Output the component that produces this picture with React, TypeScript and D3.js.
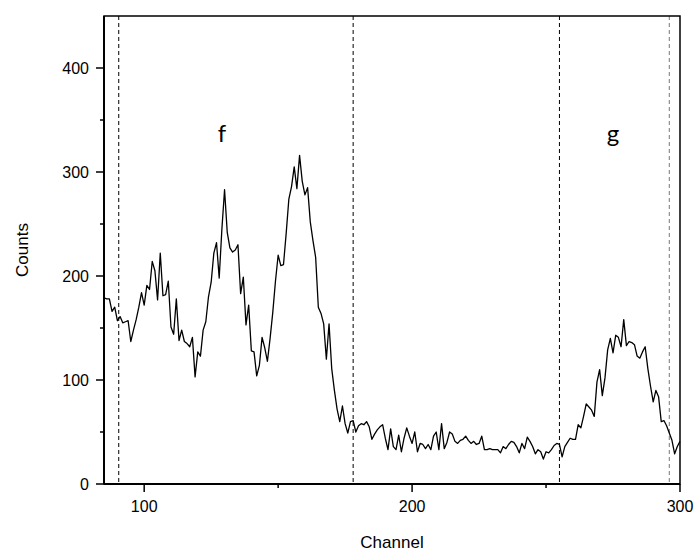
import React from 'react';
import * as d3 from 'd3';

const channelStart = 85;
const counts: number[] = [
  179, 178, 178, 166, 170, 157, 161, 155, 156, 157,
  137, 148, 158, 170, 184, 172, 191, 187, 214, 205,
  177, 222, 181, 182, 195, 151, 144, 178, 138, 148,
  137, 135, 132, 141, 103, 127, 123, 148, 156, 180,
  194, 222, 232, 198, 245, 283, 242, 227, 223, 225,
  230, 183, 199, 153, 172, 128, 127, 104, 114, 141,
  131, 118, 140, 165, 195, 220, 210, 211, 241, 274,
  286, 305, 284, 316, 291, 278, 285, 252, 234, 218,
  170, 164, 154, 120, 154, 111, 90, 72, 60, 75,
  58, 49, 60, 61, 50, 56, 58, 57, 60, 55,
  43, 48, 52, 55, 57, 44, 33, 53, 36, 33,
  47, 31, 44, 54, 46, 39, 50, 31, 39, 38,
  34, 38, 33, 46, 50, 33, 58, 34, 40, 50,
  48, 41, 39, 42, 43, 46, 42, 39, 41, 38,
  39, 46, 33, 33, 34, 33, 33, 33, 30, 36,
  34, 38, 41, 40, 36, 30, 39, 34, 45, 41,
  36, 29, 33, 31, 24, 31, 30, 33, 37, 39,
  38, 26, 36, 40, 44, 43, 43, 57, 54, 65,
  77, 74, 71, 65, 98, 110, 85, 102, 129, 140,
  126, 143, 141, 132, 158, 133, 137, 136, 134, 123,
  121, 127, 132, 111, 94, 79, 90, 84, 60, 61,
  56, 49, 42, 29, 36, 41,
];
const dashedChannels = [90.5, 178, 255, 296];
const dashedColors = ['#000', '#000', '#000', '#777'];
const xTicks = [100, 200, 300];
const xMinorTicks = [150, 250];
const yTicks = [0, 100, 200, 300, 400];
const yMinorTicks = [50, 150, 250, 350];
const peakLabels = ['f', 'g'];
const peakLabelChannels = [129, 275];
const peakLabelCount = 338;
const xDomain = [85, 300];
const yDomain = [0, 450];

const W = 698;
const H = 553;
const M = { left: 104, right: 18, top: 16, bottom: 69 };

export default function App() {
  const x = d3.scaleLinear().domain(xDomain).range([M.left, W - M.right]);
  const y = d3.scaleLinear().domain(yDomain).range([H - M.bottom, M.top]);
  const data = counts.map((v, i) => ({ c: channelStart + i, v }));
  const line = d3
    .line<{ c: number; v: number }>()
    .x((d) => x(d.c))
    .y((d) => y(d.v));
  const x0 = x(xDomain[0]);
  const x1 = x(xDomain[1]);
  const y0 = y(yDomain[0]);
  const y1 = y(yDomain[1]);
  const font = "'Liberation Sans', Arial, sans-serif";
  return (
    <svg
      width={W}
      height={H}
      style={{ position: 'absolute', left: 0, top: 0, background: '#fff' }}
    >
      <rect x={0} y={0} width={W} height={H} fill="#fff" />
      {dashedChannels.map((c, i) => (
        <line
          key={'d' + i}
          x1={x(c)}
          x2={x(c)}
          y1={y1}
          y2={y0}
          stroke={dashedColors[i]}
          strokeWidth={1}
          strokeDasharray="4,3"
        />
      ))}
      <path d={line(data) || ''} fill="none" stroke="#000" strokeWidth={1.3} strokeLinejoin="round" />
      <rect x={x0} y={y1} width={x1 - x0} height={y0 - y1} fill="none" stroke="#000" strokeWidth={1.5} />
      <line x1={x0} x2={x0} y1={y1} y2={y0} stroke="#000" strokeWidth={2} />
      <line x1={x0} x2={x1} y1={y0} y2={y0} stroke="#000" strokeWidth={2} />
      {yTicks.map((t) => (
        <g key={'yt' + t}>
          <line x1={x0 - 8} x2={x0} y1={y(t)} y2={y(t)} stroke="#000" strokeWidth={1.5} />
          <text x={x0 - 15} y={y(t)} textAnchor="end" dominantBaseline="central" fontFamily={font} fontSize={16}>
            {t}
          </text>
        </g>
      ))}
      {yMinorTicks.map((t) => (
        <line key={'ym' + t} x1={x0 - 4} x2={x0} y1={y(t)} y2={y(t)} stroke="#000" strokeWidth={1.5} />
      ))}
      {xTicks.map((t) => (
        <g key={'xt' + t}>
          <line x1={x(t)} x2={x(t)} y1={y0} y2={y0 + 8} stroke="#000" strokeWidth={1.5} />
          <text x={x(t)} y={y0 + 28} textAnchor="middle" fontFamily={font} fontSize={16}>
            {t}
          </text>
        </g>
      ))}
      {xMinorTicks.map((t) => (
        <line key={'xm' + t} x1={x(t)} x2={x(t)} y1={y0} y2={y0 + 4} stroke="#000" strokeWidth={1.5} />
      ))}
      <text x={(x0 + x1) / 2} y={H - 5} textAnchor="middle" fontFamily={font} fontSize={17}>
        Channel
      </text>
      <text
        transform={`translate(28, ${(y0 + y1) / 2}) rotate(-90)`}
        textAnchor="middle"
        fontFamily={font}
        fontSize={17}
      >
        Counts
      </text>
      {peakLabels.map((l, i) => (
        <text
          key={'pl' + i}
          x={x(peakLabelChannels[i])}
          y={y(peakLabelCount)}
          textAnchor="middle"
          dominantBaseline="central"
          fontFamily="Lato, 'Open Sans', sans-serif"
          fontSize={24}
        >
          {l}
        </text>
      ))}
    </svg>
  );
}
